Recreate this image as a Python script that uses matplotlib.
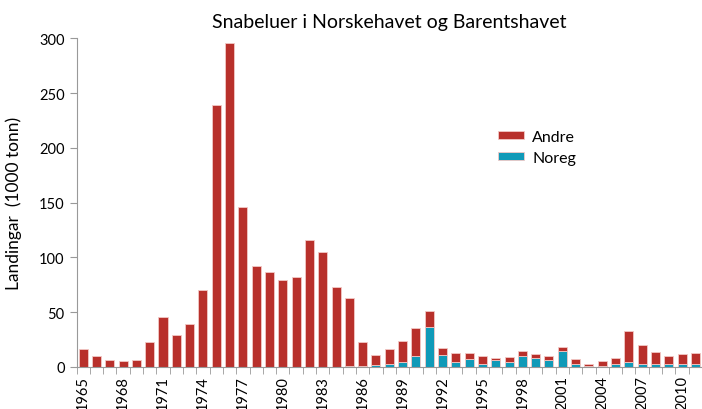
import numpy as np
import matplotlib.pyplot as plt

years = list(range(1965, 2012))
noreg = [0, 0, 0, 0, 0, 0, 0, 0, 0, 0,
         0, 0, 0, 0, 0, 0, 0, 0, 0, 0,
         0.5, 1, 1.5, 2.5, 4.6, 9.7, 35.9, 10.6, 4.6, 7.3,
         2.7, 6.4, 4.6, 9.7, 7.9, 6.4, 14.3, 2.4, 0.5, 0.8,
         2.4, 4.6, 2.4, 2.1, 2.4, 2.1, 2.4]
total = [16, 10, 6.4, 5.5, 6.4, 23, 45.5, 29, 38.7, 70,
         239, 296, 146, 92, 87, 79, 82, 116, 105, 73,
         63, 23, 10.7, 15.8, 23.7, 35, 50.8, 17.6, 12.5, 12.5,
         9.7, 7.9, 8.8, 14.3, 11.6, 9.7, 18.5, 7.3, 2.7, 5.5,
         7.9, 33, 20, 13.4, 9.7, 11.6, 12.5]
andre = [t - n for t, n in zip(total, noreg)]

tick_years = [str(y) for y in range(1965, 2012, 3)]

plt.rcParams['font.family'] = ['Lato', 'DejaVu Sans']

fig = plt.figure(figsize=(7.02, 4.10), dpi=100)
ax = fig.add_axes([0.109, 0.103, 0.891, 0.801])

x = np.arange(len(years))
c_red = '#B8302B'
c_teal = '#109AB8'
ax.bar(x, noreg, width=0.68, color=c_teal, edgecolor='#f2c9c6', linewidth=0.6, label='Noreg')
ax.bar(x, andre, width=0.68, bottom=noreg, color=c_red, edgecolor='#f2c9c6', linewidth=0.6, label='Andre')

ax.set_xlim(-0.5, len(years) - 0.5)
ax.set_ylim(0, 300)
ax.set_yticks(range(0, 301, 50))

ax.set_xticks([i for i, y in enumerate(years) if str(y) in tick_years])
ax.set_xticklabels(tick_years, rotation=90, fontsize=10.5)
ax.set_xticks(np.arange(-0.5, len(years), 1), minor=True)
ax.tick_params(axis='x', which='major', length=0, pad=6)
ax.tick_params(axis='x', which='minor', length=5, color='#999999')
ax.tick_params(axis='y', length=5, color='#999999', labelsize=10.5)

for s in ['top', 'right']:
    ax.spines[s].set_visible(False)
for s in ['left', 'bottom']:
    ax.spines[s].set_color('#999999')

ax.set_ylabel('Landingar  (1000 tonn)', fontsize=12.5, labelpad=12)
ax.set_title('Snabeluer i Norskehavet og Barentshavet', fontsize=14, pad=8)

handles, labels = ax.get_legend_handles_labels()
ax.legend(handles[::-1], labels[::-1], frameon=False, fontsize=11.5,
          loc='upper left', bbox_to_anchor=(0.651, 0.766),
          handlelength=1.65, handleheight=0.45, labelspacing=0.45, handletextpad=0.5)

fig.savefig('out.png', dpi=100)
